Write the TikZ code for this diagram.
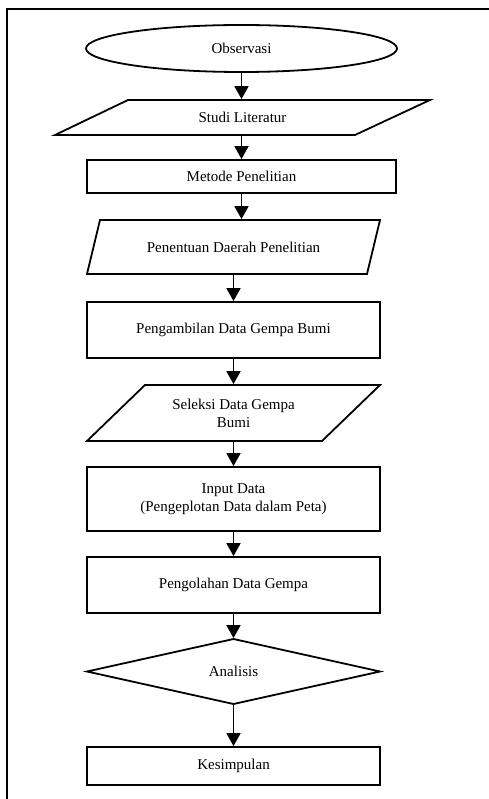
\documentclass[tikz,border=0pt]{standalone}
\usepackage{fontspec}
\setmainfont{Liberation Serif}
\usetikzlibrary{arrows.meta,shapes.geometric}
\begin{document}
\begin{tikzpicture}[x=1pt,y=-1pt,line width=1.8pt,
  lbl/.style={inner sep=0pt,align=center,font=\fontsize{15}{18}\selectfont},
  box/.style={lbl,draw,minimum width=293pt},
  arr/.style={-{Triangle[width=14pt,length=13pt]}},
  shp/.style={line join=miter}]
\useasboundingbox (0,0) rectangle (489,799);
\draw (7,799) -- (7,9) -- (489,9);
% Observasi
\node[lbl,draw,ellipse,minimum width=311pt,minimum height=47pt] (obs) at (241.5,48.5) {Observasi};
% Studi Literatur
\draw[shp] (128,100) -- (430,100) -- (355,135) -- (55,135) -- cycle;
\node[lbl,minimum height=35pt] (studi) at (242.5,117.5) {Studi Literatur};
% Metode
\node[box,minimum width=309pt,minimum height=33pt] (metode) at (241.5,176.5) {Metode Penelitian};
% Penentuan
\draw[shp] (100,220) -- (380,220) -- (367,274) -- (87,274) -- cycle;
\node[lbl,minimum height=54pt] (pen) at (233.5,247) {Penentuan Daerah Penelitian};
% Pengambilan
\node[box,minimum height=56pt] (peng) at (233.5,330) {Pengambilan Data Gempa Bumi};
% Seleksi
\draw[shp] (145,385) -- (380,385) -- (322,441) -- (87,441) -- cycle;
\node[lbl,minimum height=56pt] (sel) at (233.5,413) {Seleksi Data Gempa\\Bumi};
% Input
\node[box,minimum height=64pt] (inp) at (233.5,499) {Input Data\\(Pengeplotan Data dalam Peta)};
% Pengolahan
\node[box,minimum height=56pt] (olah) at (233.5,585) {Pengolahan Data Gempa};
% Analisis
\draw[shp] (233.5,639) -- (380,671.5) -- (233.5,704) -- (87,671.5) -- cycle;
\node[lbl,minimum height=65pt] (ana) at (233.5,671.5) {Analisis};
% Kesimpulan
\node[box,minimum height=38pt] (kes) at (233.5,766) {Kesimpulan};
% arrows
\draw[arr] (obs.south) -- (obs.south |- studi.north);
\draw[arr] (metode.north |- studi.south) -- (metode.north);
\draw[arr] (metode.south) -- (metode.south |- pen.north);
\draw[arr] (peng.north |- pen.south) -- (peng.north);
\draw[arr] (peng.south) -- (peng.south |- sel.north);
\draw[arr] (inp.north |- sel.south) -- (inp.north);
\draw[arr] (inp.south) -- (olah.north);
\draw[arr] (olah.south) -- (olah.south |- ana.north);
\draw[arr] (kes.north |- ana.south) -- (kes.north);
\end{tikzpicture}
\end{document}
